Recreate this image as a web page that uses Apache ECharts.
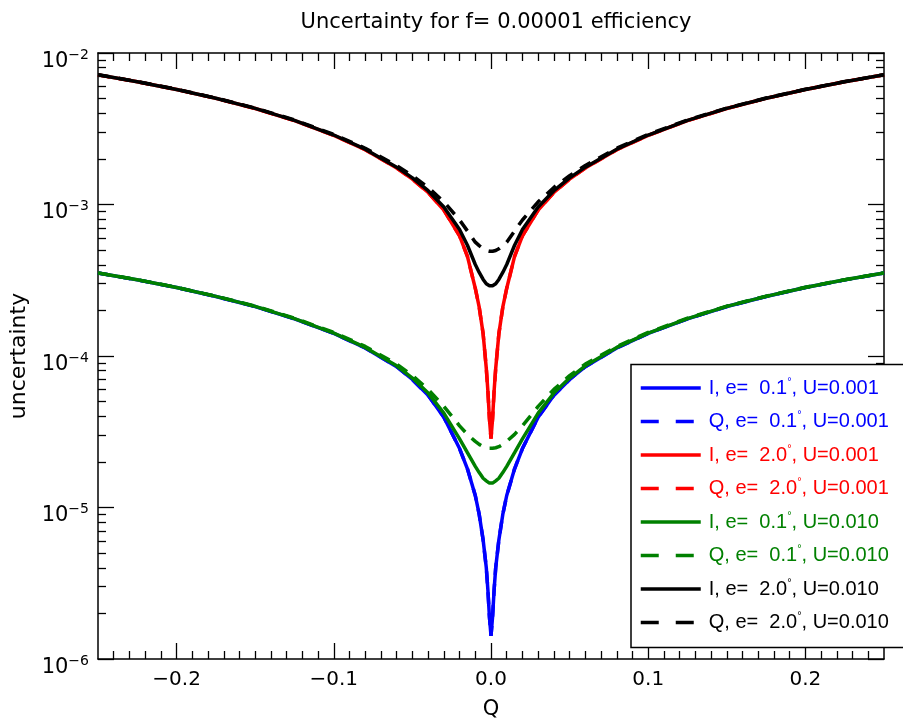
<!DOCTYPE html>
<html><head><meta charset="utf-8">
<script src="https://cdn.jsdelivr.net/npm/echarts@6/dist/echarts.min.js"></script>
<style>html,body{margin:0;padding:0;background:#fff}#chart{width:903px;height:719px}</style>
</head><body><div id="chart"></div>
<script>
// ---- data ----
const qValues = [-0.25,-0.225,-0.2,-0.175,-0.15,-0.125,-0.1,-0.08,-0.06,-0.05,-0.04,-0.03,-0.02,-0.015,-0.01,-0.0075,-0.005,-0.003,-0.002,-0.001,0,0.001,0.002,0.003,0.005,0.0075,0.01,0.015,0.02,0.03,0.04,0.05,0.06,0.08,0.1,0.125,0.15,0.175,0.2,0.225,0.25];

// e = 0.1 deg, U = 0.001 (I and Q coincide)
const iE01U001 = [3.53e-4,3.18e-4,2.83e-4,2.47e-4,2.12e-4,1.76e-4,1.41e-4,1.13e-4,8.5e-5,7.0e-5,5.5e-5,3.95e-5,2.45e-5,1.8e-5,1.2e-5,9.0e-6,6.1e-6,4.01e-6,2.88e-6,1.9e-6,1.42e-6,1.9e-6,2.88e-6,4.01e-6,6.1e-6,9.0e-6,1.2e-5,1.8e-5,2.45e-5,3.95e-5,5.5e-5,7.0e-5,8.5e-5,1.13e-4,1.41e-4,1.76e-4,2.12e-4,2.47e-4,2.83e-4,3.18e-4,3.53e-4];
const qE01U001 = [3.53e-4,3.18e-4,2.83e-4,2.47e-4,2.12e-4,1.76e-4,1.41e-4,1.13e-4,8.5e-5,7.0e-5,5.5e-5,3.95e-5,2.45e-5,1.8e-5,1.2e-5,9.0e-6,6.1e-6,4.01e-6,2.88e-6,1.9e-6,1.42e-6,1.9e-6,2.88e-6,4.01e-6,6.1e-6,9.0e-6,1.2e-5,1.8e-5,2.45e-5,3.95e-5,5.5e-5,7.0e-5,8.5e-5,1.13e-4,1.41e-4,1.76e-4,2.12e-4,2.47e-4,2.83e-4,3.18e-4,3.53e-4];
// e = 2.0 deg, U = 0.001
const iE20U001 = [7.17e-3,6.46e-3,5.74e-3,5.02e-3,4.3e-3,3.58e-3,2.86e-3,2.3e-3,1.74e-3,1.47e-3,1.2e-3,9.2e-4,6.2e-4,4.55e-4,2.8e-4,2.1e-4,1.4e-4,8.3e-5,5.93e-5,3.86e-5,2.85e-5,3.86e-5,5.93e-5,8.3e-5,1.4e-4,2.1e-4,2.8e-4,4.55e-4,6.2e-4,9.2e-4,1.2e-3,1.47e-3,1.74e-3,2.3e-3,2.86e-3,3.58e-3,4.3e-3,5.02e-3,5.74e-3,6.46e-3,7.17e-3];
const qE20U001 = [7.17e-3,6.46e-3,5.74e-3,5.02e-3,4.3e-3,3.58e-3,2.86e-3,2.3e-3,1.74e-3,1.47e-3,1.2e-3,9.2e-4,6.2e-4,4.55e-4,2.8e-4,2.1e-4,1.4e-4,8.3e-5,5.93e-5,3.86e-5,2.85e-5,3.86e-5,5.93e-5,8.3e-5,1.4e-4,2.1e-4,2.8e-4,4.55e-4,6.2e-4,9.2e-4,1.2e-3,1.47e-3,1.74e-3,2.3e-3,2.86e-3,3.58e-3,4.3e-3,5.02e-3,5.74e-3,6.46e-3,7.17e-3];
// e = 0.1 deg, U = 0.010
const iE01U010 = [3.533e-4,3.183e-4,2.834e-4,2.474e-4,2.125e-4,1.766e-4,1.417e-4,1.139e-4,8.62e-5,7.15e-5,5.69e-5,4.2e-5,2.84e-5,2.3e-5,1.87e-5,1.7e-5,1.56e-5,1.5e-5,1.47e-5,1.45e-5,1.44e-5,1.45e-5,1.47e-5,1.5e-5,1.56e-5,1.7e-5,1.87e-5,2.3e-5,2.84e-5,4.2e-5,5.69e-5,7.15e-5,8.62e-5,1.139e-4,1.417e-4,1.766e-4,2.125e-4,2.474e-4,2.834e-4,3.183e-4,3.533e-4];
const qE01U010 = [3.538e-4,3.189e-4,2.841e-4,2.482e-4,2.134e-4,1.777e-4,1.431e-4,1.156e-4,8.85e-5,7.42e-5,6.02e-5,4.65e-5,3.46e-5,3.04e-5,2.73e-5,2.61e-5,2.52e-5,2.48e-5,2.47e-5,2.46e-5,2.45e-5,2.46e-5,2.47e-5,2.48e-5,2.52e-5,2.61e-5,2.73e-5,3.04e-5,3.46e-5,4.65e-5,6.02e-5,7.42e-5,8.85e-5,1.156e-4,1.431e-4,1.777e-4,2.134e-4,2.482e-4,2.841e-4,3.189e-4,3.538e-4];
// e = 2.0 deg, U = 0.010
const iE20U010 = [7.176e-3,6.466e-3,5.747e-3,5.028e-3,4.31e-3,3.592e-3,2.875e-3,2.318e-3,1.764e-3,1.498e-3,1.234e-3,9.64e-4,6.836e-4,5.385e-4,4.017e-4,3.56e-4,3.2e-4,2.997e-4,2.94e-4,2.906e-4,2.894e-4,2.906e-4,2.94e-4,2.997e-4,3.2e-4,3.56e-4,4.017e-4,5.385e-4,6.836e-4,9.64e-4,1.234e-3,1.498e-3,1.764e-3,2.318e-3,2.875e-3,3.592e-3,4.31e-3,5.028e-3,5.747e-3,6.466e-3,7.176e-3];
const qE20U010 = [7.187e-3,6.479e-3,5.761e-3,5.044e-3,4.328e-3,3.613e-3,2.902e-3,2.352e-3,1.808e-3,1.55e-3,1.296e-3,1.042e-3,7.903e-4,6.687e-4,5.644e-4,5.35e-4,5.1e-4,4.97e-4,4.936e-4,4.915e-4,4.908e-4,4.915e-4,4.936e-4,4.97e-4,5.1e-4,5.35e-4,5.644e-4,6.687e-4,7.903e-4,1.042e-3,1.296e-3,1.55e-3,1.808e-3,2.352e-3,2.902e-3,3.613e-3,4.328e-3,5.044e-3,5.761e-3,6.479e-3,7.187e-3];

const seriesNames = [
  'I, e=  0.1°, U=0.001', 'Q, e=  0.1°, U=0.001',
  'I, e=  2.0°, U=0.001', 'Q, e=  2.0°, U=0.001',
  'I, e=  0.1°, U=0.010', 'Q, e=  0.1°, U=0.010',
  'I, e=  2.0°, U=0.010', 'Q, e=  2.0°, U=0.010'
];
const seriesValues = [iE01U001, qE01U001, iE20U001, qE20U001, iE01U010, qE01U010, iE20U010, qE20U010];

const xTickLabels = [-0.2, -0.1, 0, 0.1, 0.2];
const yTickLabels = [1e-6, 1e-5, 1e-4, 1e-3, 1e-2];
const titleText = 'Uncertainty for f= 0.00001 efficiency';
const xName = 'Q';
const yName = 'uncertainty';

// ---- styling ----
const colors = ['#0000ff','#0000ff','#ff0000','#ff0000','#008000','#008000','#000000','#000000'];
const dashed = [false,true,false,true,false,true,false,true];
const FONT = "'DejaVu Sans', 'Liberation Sans', Arial, sans-serif";
const LFONT = "'Liberation Sans', Arial, Helvetica, sans-serif";

const xMinor = [];
for (let i = -24; i <= 24; i++) { if (i % 10 !== 0) xMinor.push(i / 100); }
const yMinor = [];
for (let e = -6; e <= -3; e++) for (let m = 2; m <= 9; m++) yMinor.push(m * Math.pow(10, e));

const minus = s => String(s).replace('-', '\u2212');
const axisLine = { show: true, onZero: false, lineStyle: { color: '#000', width: 1.5 } };

function xAx(pos, vals, len, showLine, showLabel) {
  return {
    type: 'value', min: -0.25, max: 0.25, position: pos, offset: 0,
    axisLine: showLine ? axisLine : { show: false, onZero: false },
    splitLine: { show: false },
    axisTick: { show: true, inside: true, length: len, customValues: vals, lineStyle: { color: '#000', width: 1.3 } },
    axisLabel: showLabel ? {
      show: true, customValues: xTickLabels, margin: 11,
      fontFamily: FONT, fontSize: 20, color: '#000',
      formatter: v => minus((Math.round(v * 10) / 10).toFixed(1))
    } : { show: false },
    name: showLabel ? xName : '', nameLocation: 'middle', nameGap: 40,
    nameTextStyle: { fontFamily: FONT, fontSize: 21, color: '#000' }
  };
}
function yAx(pos, vals, len, showLine, showLabel) {
  return {
    type: 'log', logBase: 10, min: 1e-6, max: 1e-2, position: pos, offset: 0,
    axisLine: showLine ? axisLine : { show: false, onZero: false },
    splitLine: { show: false }, minorTick: { show: false },
    axisTick: { show: true, inside: true, length: len, customValues: vals, lineStyle: { color: '#000', width: 1.3 } },
    axisLabel: showLabel ? {
      show: true, customValues: yTickLabels, margin: 9, padding: [14, 0, 0, 0],
      formatter: v => '{b|10}{s|' + minus(Math.round(Math.log10(v))) + '}',
      rich: {
        b: { fontFamily: FONT, fontSize: 21, color: '#000', lineHeight: 24, verticalAlign: 'bottom' },
        s: { fontFamily: FONT, fontSize: 14, color: '#000', lineHeight: 14, verticalAlign: 'top' }
      }
    } : { show: false },
    name: showLabel ? yName : '', nameLocation: 'middle', nameGap: 61,
    nameTextStyle: { fontFamily: FONT, fontSize: 22, color: '#000' }
  };
}

const rich = {};
colors.forEach((c, i) => {
  rich['t' + i] = { color: c, fontFamily: LFONT, fontSize: 20, lineHeight: 24 };
  rich['d' + i] = { color: c, fontFamily: LFONT, fontSize: 11, lineHeight: 24, verticalAlign: 'top', padding: [0, 0, 10, 0] };
});

const option = {
  animation: false,
  backgroundColor: '#fff',
  title: {
    text: titleText, left: 491, top: 7, textAlign: 'center',
    textStyle: { fontFamily: FONT, fontSize: 21, fontWeight: 'normal', color: '#000' }
  },
  grid: { left: 98, right: 19, top: 53, bottom: 60, outerBoundsMode: 'none', containLabel: false },
  xAxis: [
    xAx('bottom', xTickLabels, 16, true, true),
    xAx('bottom', xMinor, 8, false, false),
    xAx('top', xTickLabels, 16, true, false),
    xAx('top', xMinor, 8, false, false)
  ],
  yAxis: [
    yAx('left', yTickLabels, 16, true, true),
    yAx('left', yMinor, 8, false, false),
    yAx('right', yTickLabels, 16, true, false),
    yAx('right', yMinor, 8, false, false)
  ],
  // legend frame: runs past the right edge of the picture, as in the reference
  graphic: [{
    type: 'rect', z: 50, silent: true,
    shape: { x: 631, y: 364.5, width: 320, height: 283 },
    style: { fill: '#fff', stroke: '#000', lineWidth: 1.5 }
  }],
  legend: {
    z: 60,
    orient: 'vertical', left: 631, top: 364,
    padding: [12, 10, 16, 8],
    itemWidth: 60, itemHeight: 2, itemGap: 11.5,
    itemStyle: { opacity: 0 },
    backgroundColor: 'transparent', borderWidth: 0,
    data: seriesNames.map((n, i) => ({
      name: n, textStyle: { color: colors[i] },
      lineStyle: { width: 3.5, color: colors[i], type: dashed[i] ? [18, 17] : 'solid' }
    })),
    formatter: name => {
      const i = seriesNames.indexOf(name);
      const parts = name.split('°');
      return '{t' + i + '|' + parts[0] + '}{d' + i + '|°}{t' + i + '|' + parts[1] + '}';
    },
    textStyle: { fontFamily: LFONT, fontSize: 20, rich: rich, padding: [0, 0, 0, 3] },
    selectedMode: false
  },
  series: seriesNames.map((n, i) => ({
    name: n, type: 'line', xAxisIndex: 0, yAxisIndex: 0,
    data: qValues.map((q, k) => [q, seriesValues[i][k]]),
    symbol: 'none', showSymbol: false, smooth: false, clip: true,
    lineStyle: { color: colors[i], width: 3.5, type: dashed[i] ? [12, 9] : 'solid' },
    itemStyle: { color: colors[i] },
    emphasis: { disabled: true }
  }))
};

const chart = echarts.init(document.getElementById('chart'), null, { renderer: 'canvas' });
chart.setOption(option);
</script>
</body></html>
